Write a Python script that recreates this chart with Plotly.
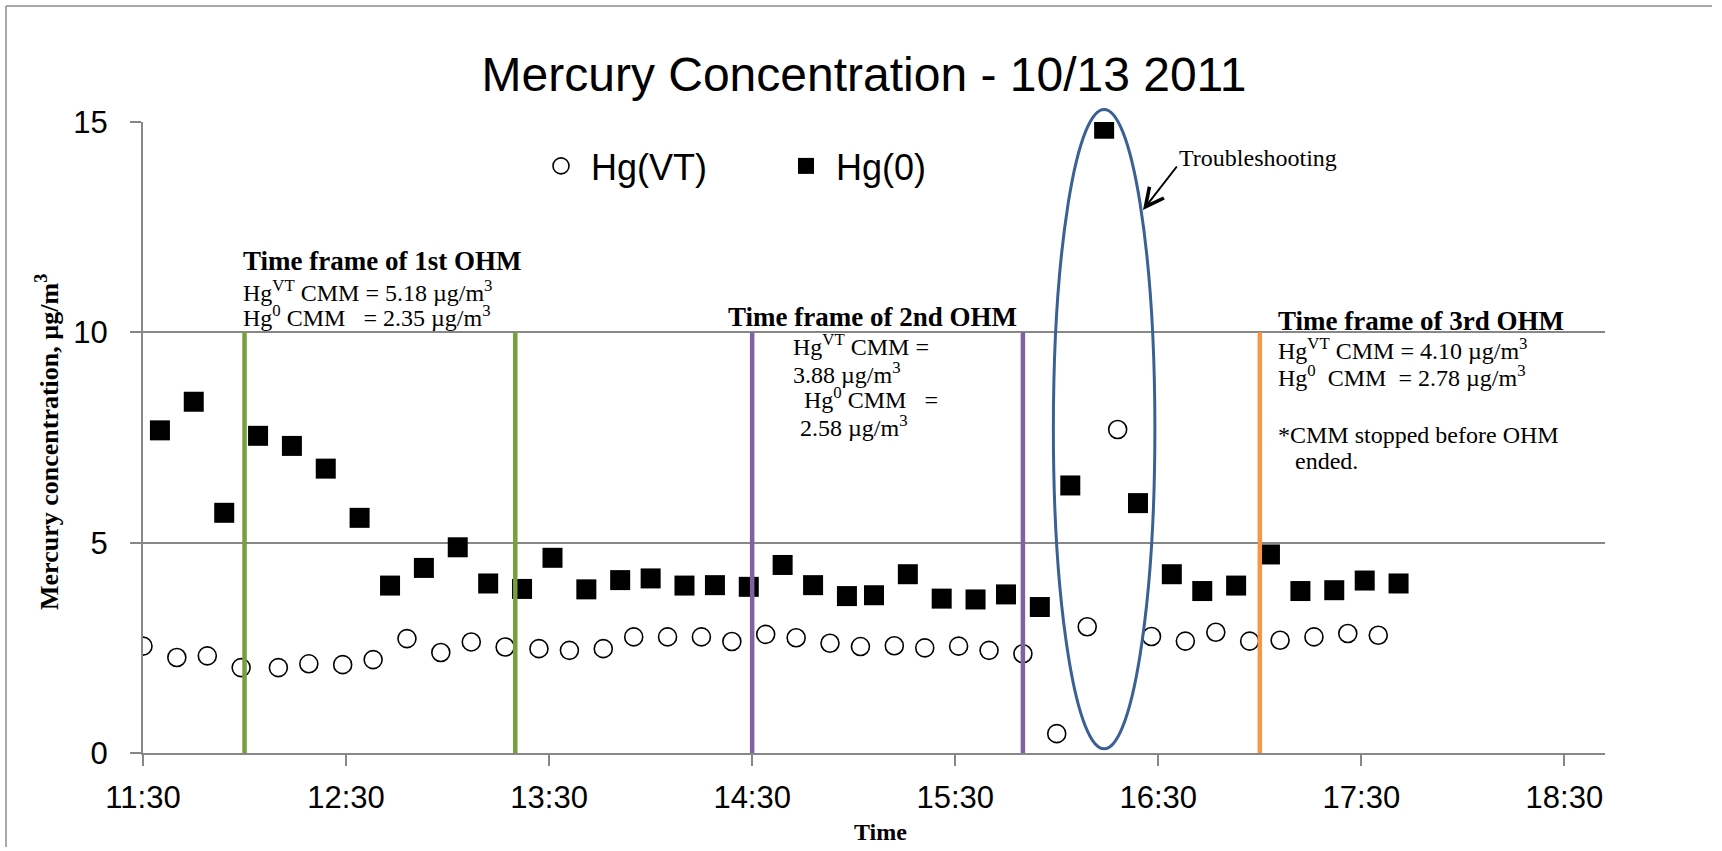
import plotly.graph_objects as go

DAY = "2011-10-13 "

# ---------------- data ----------------
hg0_times = ["11:35", "11:45", "11:54", "12:04", "12:14", "12:24", "12:34", "12:43", "12:53", "13:03",
             "13:12", "13:22", "13:31", "13:41", "13:51", "14:00", "14:10", "14:19", "14:29", "14:39",
             "14:48", "14:58", "15:06", "15:16", "15:26", "15:36", "15:45", "15:55", "16:04", "16:14",
             "16:24", "16:34", "16:43", "16:53", "17:03", "17:12", "17:22", "17:31", "17:41"]
hg0_values = [7.67, 8.35, 5.71, 7.54, 7.30, 6.76, 5.59, 3.98, 4.40, 4.89,
              4.03, 3.90, 4.64, 3.89, 4.11, 4.15, 3.98, 3.99, 3.95, 4.47,
              3.99, 3.73, 3.75, 4.25, 3.67, 3.65, 3.77, 3.47, 6.36, 14.84,
              5.94, 4.25, 3.85, 3.98, 4.72, 3.85, 3.87, 4.10, 4.03]

hgvt_times = ["11:30", "11:40", "11:49", "11:59", "12:10", "12:19", "12:29", "12:38", "12:48", "12:58",
              "13:07", "13:17", "13:27", "13:36", "13:46", "13:55", "14:05", "14:15", "14:24", "14:34",
              "14:43", "14:53", "15:02", "15:12", "15:21", "15:31", "15:40", "15:50", "16:00", "16:09",
              "16:18", "16:28", "16:38", "16:47", "16:57", "17:06", "17:16", "17:26", "17:35"]
hgvt_values = [2.54, 2.27, 2.31, 2.03, 2.03, 2.12, 2.10, 2.22, 2.72, 2.39,
               2.64, 2.52, 2.48, 2.44, 2.48, 2.76, 2.76, 2.76, 2.65, 2.82,
               2.74, 2.61, 2.53, 2.55, 2.50, 2.54, 2.44, 2.36, 0.46, 3.00,
               7.69, 2.77, 2.66, 2.87, 2.66, 2.68, 2.76, 2.84, 2.80]

ohm_line_times = ["12:00", "13:20", "14:30", "15:50", "17:00"]
ohm_line_top = 10
trouble_window = ["15:59", "16:29"]
trouble_range = [0.1, 15.3]

x_tick_labels = ["11:30", "12:30", "13:30", "14:30", "15:30", "16:30", "17:30", "18:30"]
y_tick_values = [0, 5, 10, 15]
x_range = ["11:30", "18:42"]
y_range = [0, 15]

# ---------------- layout helpers ----------------
W, H = 1712, 847
PLOT_L, PLOT_R, PLOT_T, PLOT_B = 143, 1605, 122, 753   # page pixels of plot area
L, T = PLOT_L, PLOT_T
R, B = W - PLOT_R, H - PLOT_B
PW, PH = PLOT_R - PLOT_L, PLOT_B - PLOT_T


def px(x):
    return (x - PLOT_L) / PW


def py(y):
    return (PLOT_B - y) / PH


def yfrac(v):
    return (v - y_range[0]) / (y_range[1] - y_range[0])


GRAY = "#878787"
SERIF = "Liberation Serif, Times New Roman, serif"
SANS = "Liberation Sans, Arial, sans-serif"
NB = "\u00a0"

fig = go.Figure()
fig.add_trace(go.Scatter(
    x=[DAY + t for t in hgvt_times], y=hgvt_values, mode="markers", name=NB + "Hg(VT)",
    marker=dict(symbol="circle-open", size=18, color="black", line=dict(width=1.6, color="black"))))
fig.add_trace(go.Scatter(
    x=[DAY + t for t in hg0_times], y=hg0_values, mode="markers", name=NB + "Hg(0)",
    marker=dict(symbol="square", size=20, color="black")))

line_colors = ["#77A03C", "#77A03C", "#7F63A1", "#7F63A1", "#F79646"]
for t, c in zip(ohm_line_times, line_colors):
    fig.add_shape(type="line", xref="x", yref="y", x0=DAY + t, x1=DAY + t, y0=0, y1=ohm_line_top,
                  line=dict(color=c, width=4.5), layer="above")

fig.add_shape(type="circle", xref="x", yref="paper",
              x0=DAY + trouble_window[0], x1=DAY + trouble_window[1],
              y0=yfrac(trouble_range[0]), y1=yfrac(trouble_range[1]),
              line=dict(color="#3B6194", width=3))

# outer frame (top + left visible)
fig.add_shape(type="line", xref="paper", yref="paper", x0=px(6), x1=px(1760), y0=py(6), y1=py(6),
              line=dict(color="#8c8c8c", width=1.5))
fig.add_shape(type="line", xref="paper", yref="paper", x0=px(6), x1=px(6), y0=py(6), y1=py(900),
              line=dict(color="#8c8c8c", width=1.5))

bold_anns = [
    ("Time frame of 1st OHM", 241, 261),
    ("Time frame of 2nd OHM", 726, 317),
    ("Time frame of 3rd OHM", 1276, 321),
]
plain_anns = [
    ("Hg<sup>VT</sup> CMM = 5.18 µg/m<sup>3</sup>", 241, 291),
    ("Hg<sup>0</sup> CMM   = 2.35 µg/m<sup>3</sup>", 241, 316),
    ("Hg<sup>VT</sup> CMM =", 791, 345),
    ("3.88 µg/m<sup>3</sup>", 791, 373),
    (" Hg<sup>0</sup> CMM   =", 796, 398),
    ("2.58 µg/m<sup>3</sup>", 798, 426),
    ("Hg<sup>VT</sup> CMM = 4.10 µg/m<sup>3</sup>", 1276, 349),
    ("Hg<sup>0</sup>  CMM  = 2.78 µg/m<sup>3</sup>", 1276, 376),
    ("*CMM stopped before OHM", 1276, 435),
    ("ended.", 1293, 461),
    ("Troubleshooting", 1177, 158),
]
for text, x, y in bold_anns:
    fig.add_annotation(text="<b>" + text + "</b>", xref="paper", yref="paper", x=px(x), y=py(y),
                       xanchor="left", yanchor="middle", showarrow=False,
                       font=dict(family=SERIF, size=27, color="black"))
for text, x, y in plain_anns:
    fig.add_annotation(text=text, xref="paper", yref="paper", x=px(x), y=py(y),
                       xanchor="left", yanchor="middle", showarrow=False,
                       font=dict(family=SERIF, size=24, color="black"))

# arrow
fig.add_annotation(xref="paper", yref="paper", x=px(1143), y=py(210), ax=35, ay=-45,
                   text="", showarrow=True, arrowhead=5, arrowsize=1.8, arrowwidth=2, arrowcolor="black")

# axis titles
fig.add_annotation(text="<b>Mercury concentration, µg/m<sup>3</sup></b>", xref="paper", yref="paper",
                   x=px(47), y=py(442), textangle=-90, showarrow=False,
                   xanchor="center", yanchor="middle", font=dict(family=SERIF, size=26, color="black"))
fig.add_annotation(text="<b>Time</b>", xref="paper", yref="paper", x=px(880), y=py(832),
                   showarrow=False, xanchor="center", yanchor="middle",
                   font=dict(family=SERIF, size=24, color="black"))

fig.update_layout(
    width=W, height=H, autosize=False,
    margin=dict(l=L, r=R, t=T, b=B),
    paper_bgcolor="white", plot_bgcolor="white",
    title=dict(text="Mercury Concentration - 10/13 2011", xref="container", x=864 / W, xanchor="center",
               y=1 - 74 / H, yanchor="middle", font=dict(family=SANS, size=48, color="black")),
    legend=dict(orientation="h", x=px(541), y=py(166), xanchor="left", yanchor="middle",
                font=dict(family=SANS, size=36, color="black"), bgcolor="rgba(0,0,0,0)",
                entrywidth=200, entrywidthmode="pixels"),
    showlegend=True,
)
fig.update_xaxes(
    type="date", range=[DAY + x_range[0], DAY + x_range[1]],
    tickvals=[DAY + t for t in x_tick_labels], ticktext=x_tick_labels,
    showgrid=False, zeroline=False, showline=True, linecolor=GRAY, linewidth=2,
    ticks="outside", ticklen=11, tickwidth=2, tickcolor=GRAY, ticklabelstandoff=5,
    tickfont=dict(family=SANS, size=31, color="black"))
fig.update_yaxes(
    range=y_range, tickvals=y_tick_values, showgrid=True, gridcolor=GRAY, gridwidth=2,
    zeroline=False, showline=True, linecolor=GRAY, linewidth=2,
    ticks="outside", ticklen=11, tickwidth=2, tickcolor=GRAY, ticklabelstandoff=16,
    tickfont=dict(family=SANS, size=31, color="black"))

fig.write_html(
    "out.html",
    config={"displayModeBar": False},
    post_script=("document.body.style.margin='0';document.body.style.overflow='hidden';"
                 "document.documentElement.style.overflow='hidden';"))
